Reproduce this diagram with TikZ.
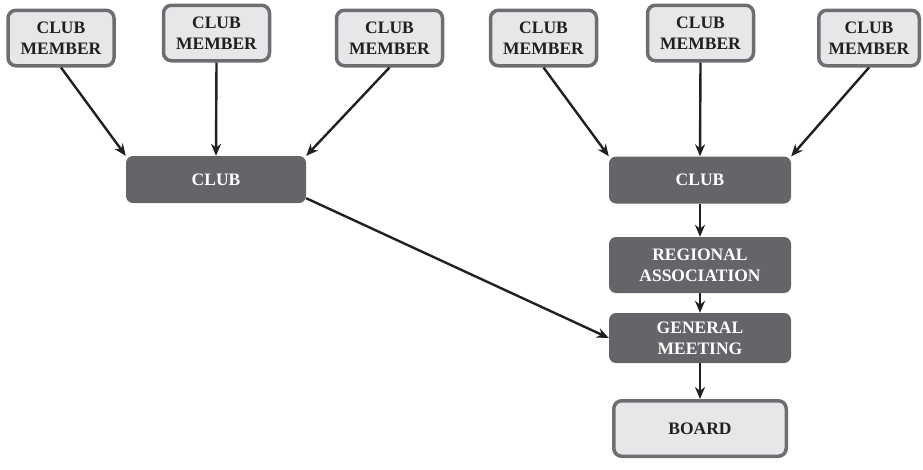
\documentclass[tikz,border=0pt]{standalone}
\usepackage{fontspec}
\setmainfont{Liberation Serif}
\usetikzlibrary{arrows.meta}
\definecolor{lightbox}{HTML}{E6E7E8}
\definecolor{boxborder}{HTML}{6D6E71}
\definecolor{darkbox}{HTML}{646569}
\definecolor{ink}{HTML}{231F20}
\tikzset{
  member/.style={draw=boxborder, line width=3.5pt, fill=lightbox, rounded corners=8pt,
    minimum width=106pt, minimum height=55.5pt, inner sep=0pt, align=center,
    text=ink, font=\fontsize{17.5}{21}\selectfont\bfseries},
  darkstep/.style={fill=darkbox, rounded corners=7pt, inner sep=0pt, align=center,
    minimum width=182pt, text=white, font=\fontsize{17.5}{21}\selectfont\bfseries},
  conn/.style={draw=ink, line width=2.4pt, -{Stealth[length=12pt,width=10pt]}}
}
\begin{document}
\begin{tikzpicture}[x=1pt,y=-1pt]
\useasboundingbox (0,0) rectangle (923,469);
\node[member] (m1) at (61,38) {CLUB\\MEMBER};
\node[member] (m2) at (216.5,33) {CLUB\\MEMBER};
\node[member] (m3) at (389.5,38) {CLUB\\MEMBER};
\node[member] (m4) at (543.5,38) {CLUB\\MEMBER};
\node[member] (m5) at (700.5,33) {CLUB\\MEMBER};
\node[member, minimum width=100.5pt] (m6) at (869,38) {CLUB\\MEMBER};
\node[darkstep, minimum width=180pt, minimum height=47pt] (cl) at (216,179.5) {CLUB};
\node[darkstep, minimum height=47pt] (cr) at (700,180) {CLUB};
\node[darkstep, minimum height=56pt] (ra) at (700,265) {REGIONAL\\ASSOCIATION};
\node[darkstep, minimum height=50pt] (gm) at (700,338) {GENERAL\\MEETING};
\node[member, minimum width=172.5pt, minimum height=55.5pt] (bd) at (700,428.5) {BOARD};
\draw[conn] (m1.south) -- (cl.north west);
\draw[conn] (m2.south) -- (cl.north);
\draw[conn] (m3.south) -- (cl.north east);
\draw[conn] (m4.south) -- (cr.north west);
\draw[conn] (m5.south) -- (cr.north);
\draw[conn] (m6.south) -- (cr.north east);
\draw[conn] ([yshift=5pt]cl.south east) -- (gm.west);
\draw[conn] (cr.south) -- (ra.north);
\draw[conn] (ra.south) -- (gm.north);
\draw[conn] (gm.south) -- (bd.north);
\end{tikzpicture}
\end{document}
